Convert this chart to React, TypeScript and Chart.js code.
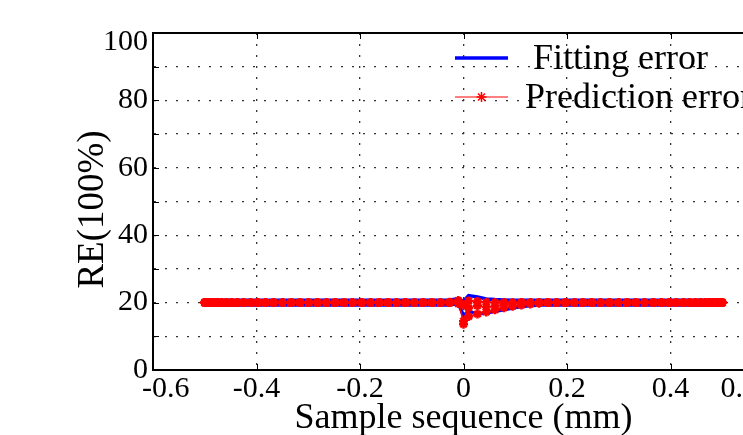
import React, { useEffect, useRef } from 'react';
import { Chart, registerables } from 'chart.js';

Chart.register(...registerables);

const SERIF = '"Liberation Serif", "Times New Roman", serif';

// sample positions (mm)
const sampleX = [
  -0.5, -0.497, -0.493, -0.488, -0.482, -0.475, -0.467, -0.458, -0.448, -0.437,
  -0.425, -0.412, -0.398, -0.383, -0.367, -0.35, -0.333, -0.316, -0.299, -0.282,
  -0.265, -0.248, -0.231, -0.214, -0.197, -0.18, -0.163, -0.146, -0.129, -0.112,
  -0.095, -0.078, -0.061, -0.044, -0.027, -0.01,
  0,
  0.01, 0.027, 0.044, 0.061, 0.078, 0.095, 0.112, 0.129, 0.146, 0.163,
  0.18, 0.197, 0.214, 0.231, 0.248, 0.265, 0.282, 0.299, 0.316, 0.333,
  0.35, 0.367, 0.383, 0.398, 0.412, 0.425, 0.437, 0.448, 0.458, 0.467,
  0.475, 0.482, 0.488, 0.493, 0.497, 0.5,
];

// Fitting error curves (blue)
const fittingA = [
  20.7, 20.7, 20.7, 20.7, 20.7, 20.7, 20.7, 20.7, 20.7, 20.7,
  20.7, 20.7, 20.7, 20.7, 20.7, 20.7, 20.7, 20.7, 20.7, 20.7,
  20.7, 20.7, 20.7, 20.7, 20.7, 20.7, 20.7, 20.7, 20.7, 20.7,
  20.7, 20.7, 20.7, 20.7, 20.8, 21.1,
  20.4,
  22.1, 21.7, 21.1, 20.9, 20.8, 20.7, 20.7, 20.7, 20.7, 20.7,
  20.7, 20.7, 20.7, 20.7, 20.7, 20.7, 20.7, 20.7, 20.7, 20.7,
  20.7, 20.7, 20.7, 20.7, 20.7, 20.7, 20.7, 20.7, 20.7, 20.7,
  20.7, 20.7, 20.7, 20.7, 20.7, 20.7,
];
const fittingB = [
  19.3, 19.3, 19.3, 19.3, 19.3, 19.3, 19.3, 19.3, 19.3, 19.3,
  19.3, 19.3, 19.3, 19.3, 19.3, 19.3, 19.3, 19.3, 19.3, 19.3,
  19.3, 19.3, 19.3, 19.3, 19.3, 19.3, 19.3, 19.3, 19.3, 19.3,
  19.3, 19.3, 19.3, 19.3, 19.3, 19.7,
  16.2,
  17.4, 16.6, 16.9, 17.4, 17.9, 18.4, 18.8, 19.1, 19.3, 19.3,
  19.3, 19.3, 19.3, 19.3, 19.3, 19.3, 19.3, 19.3, 19.3, 19.3,
  19.3, 19.3, 19.3, 19.3, 19.3, 19.3, 19.3, 19.3, 19.3, 19.3,
  19.3, 19.3, 19.3, 19.3, 19.3, 19.3,
];

// Prediction error curves (red)
const predictionA = [
  20, 20, 20, 20, 20, 20, 20, 20, 20, 20,
  20, 20, 20, 20, 20, 20, 20, 20, 20, 20,
  20, 20, 20, 20, 20, 20, 20, 20, 20, 20,
  20, 20, 20, 20, 20.1, 20.6,
  13.6,
  20.5, 20.3, 20.1, 20, 20, 20, 20, 20, 20, 20,
  20, 20, 20, 20, 20, 20, 20, 20, 20, 20,
  20, 20, 20, 20, 20, 20, 20, 20, 20, 20,
  20, 20, 20, 20, 20, 20,
];
const predictionB = [
  20, 20, 20, 20, 20, 20, 20, 20, 20, 20,
  20, 20, 20, 20, 20, 20, 20, 20, 20, 20,
  20, 20, 20, 20, 20, 20, 20, 20, 20, 20,
  20, 20, 20, 20, 20, 19.7,
  19.3,
  15.9, 16.6, 17.2, 17.9, 18.5, 18.9, 19.3, 19.6, 19.8, 20,
  20, 20, 20, 20, 20, 20, 20, 20, 20, 20,
  20, 20, 20, 20, 20, 20, 20, 20, 20, 20,
  20, 20, 20, 20, 20, 20,
];
const predictionC = [
  20, 20, 20, 20, 20, 20, 20, 20, 20, 20,
  20, 20, 20, 20, 20, 20, 20, 20, 20, 20,
  20, 20, 20, 20, 20, 20, 20, 20, 20, 20,
  20, 20, 20, 20, 20, 20.3,
  14.5,
  18.4, 19.1, 18.7, 19.0, 19.4, 19.7, 20, 20, 20, 20,
  20, 20, 20, 20, 20, 20, 20, 20, 20, 20,
  20, 20, 20, 20, 20, 20, 20, 20, 20, 20,
  20, 20, 20, 20, 20, 20,
];

const xTickValues = [-0.6, -0.4, -0.2, 0, 0.2, 0.4, 0.6];
const xTickLabels = ['-0.6', '-0.4', '-0.2', '0', '0.2', '0.4', '0.6'];
const yTickValues = [0, 20, 40, 60, 80, 100];
const yTickLabels = ['0', '20', '40', '60', '80', '100'];
const xTitle = 'Sample sequence (mm)';
const yTitle = 'RE(100%)';

const BLUE = '#0000ff';
const RED = '#ff0000';

function toPoints(ys: number[]) {
  return sampleX.map((x, i) => ({ x, y: ys[i] }));
}

function drawStar(ctx: CanvasRenderingContext2D, x: number, y: number, r: number) {
  ctx.beginPath();
  for (let k = 0; k < 4; k++) {
    const ang = (k * Math.PI) / 4;
    const dx = Math.cos(ang) * r;
    const dy = Math.sin(ang) * r;
    ctx.moveTo(x - dx, y - dy);
    ctx.lineTo(x + dx, y + dy);
  }
  ctx.stroke();
}

const matlabAxes = {
  id: 'matlabAxes',
  afterDraw(chart: any) {
    const { ctx, chartArea: a, scales } = chart;
    const xs = scales.x;
    const ys = scales.y;
    ctx.save();
    // top and right box edges
    ctx.strokeStyle = '#000';
    ctx.lineWidth = 2;
    ctx.setLineDash([]);
    ctx.beginPath();
    ctx.moveTo(a.left - 1, a.top);
    ctx.lineTo(a.right + 1, a.top);
    ctx.moveTo(a.right, a.top);
    ctx.lineTo(a.right, a.bottom);
    ctx.stroke();
    // inward tick marks
    ctx.lineWidth = 1;
    ctx.beginPath();
    xTickValues.forEach((v) => {
      const px = Math.round(xs.getPixelForValue(v)) + 0.5;
      ctx.moveTo(px, a.bottom);
      ctx.lineTo(px, a.bottom - 6);
      ctx.moveTo(px, a.top);
      ctx.lineTo(px, a.top + 6);
    });
    ys.ticks.forEach((t: any) => {
      const py = Math.round(ys.getPixelForValue(t.value)) + 0.5;
      ctx.moveTo(a.left, py);
      ctx.lineTo(a.left + 6, py);
    });
    ctx.stroke();
    // tick labels
    ctx.fillStyle = '#000';
    ctx.font = `30px ${SERIF}`;
    ctx.textAlign = 'left';
    ctx.textBaseline = 'alphabetic';
    xTickValues.forEach((v, i) => {
      const label = xTickLabels[i];
      const w = ctx.measureText(label).width;
      const px = xs.getPixelForValue(v);
      let left = px - w / 2;
      left = Math.max(left, a.left - 11);
      left = Math.min(left, a.right - 16 - w);
      ctx.fillText(label, left, a.bottom + 27);
    });
    ctx.textAlign = 'right';
    ctx.textBaseline = 'middle';
    yTickValues.forEach((v, i) => {
      const py = Math.max(ys.getPixelForValue(v), a.top + 9.5);
      ctx.fillText(yTickLabels[i], a.left - 5, py);
    });
    // y axis title
    ctx.font = `37px ${SERIF}`;
    ctx.textAlign = 'center';
    ctx.textBaseline = 'middle';
    ctx.translate(a.left - 60, (a.top + a.bottom) / 2 + 8);
    ctx.rotate(-Math.PI / 2);
    ctx.fillText(yTitle, 0, 0);
    ctx.restore();
  },
};

const insideLegend = {
  id: 'insideLegend',
  afterDraw(chart: any) {
    const { ctx, chartArea: a } = chart;
    const items = chart.data.datasets.filter((d: any) => d.inLegend);
    ctx.save();
    ctx.font = `36px ${SERIF}`;
    ctx.fillStyle = '#000';
    ctx.textAlign = 'left';
    ctx.textBaseline = 'middle';
    const x0 = a.right - 319;
    const x1 = a.right - 266;
    items.forEach((d: any, i: number) => {
      const y = a.top + 25 + i * 39;
      ctx.strokeStyle = d.borderColor;
      ctx.lineWidth = d.legendWidth;
      ctx.setLineDash([]);
      ctx.beginPath();
      ctx.moveTo(x0, y);
      ctx.lineTo(x1, y);
      ctx.stroke();
      if (d.pointRadius > 0) {
        ctx.strokeStyle = d.pointBorderColor;
        ctx.lineWidth = 1.5;
        drawStar(ctx, (x0 + x1) / 2, y, 5);
      }
      ctx.fillText(d.label, a.right - (i === 0 ? 241 : 249), y + 2);
    });
    ctx.restore();
  },
};

export default function App() {
  const canvasRef = useRef<HTMLCanvasElement | null>(null);

  useEffect(() => {
    const canvas = canvasRef.current;
    if (!canvas) return;
    const redBase = {
      borderColor: RED,
      borderWidth: 1.2,
      legendWidth: 1,
      pointStyle: 'star',
      pointRadius: 4.5,
      pointBorderWidth: 2.5,
      pointBorderColor: RED,
      pointBackgroundColor: RED,
      fill: false,
      tension: 0,
      order: 0,
    };
    const blueBase = {
      borderColor: BLUE,
      borderWidth: 3.5,
      legendWidth: 3.5,
      pointRadius: 0,
      fill: false,
      tension: 0,
      order: 1,
    };
    const chart = new Chart(canvas, {
      type: 'line',
      data: {
        datasets: [
          { ...blueBase, label: 'Fitting error', inLegend: true, data: toPoints(fittingA) } as any,
          { ...blueBase, label: 'Fitting error', data: toPoints(fittingB) } as any,
          { ...redBase, label: 'Prediction error', inLegend: true, data: toPoints(predictionA) } as any,
          { ...redBase, label: 'Prediction error', data: toPoints(predictionB) } as any,
          { ...redBase, label: 'Prediction error', data: toPoints(predictionC) } as any,
        ],
      },
      options: {
        responsive: false,
        animation: false,
        devicePixelRatio: 1,
        layout: { padding: { top: 33, right: 26, left: 0, bottom: 0 } },
        plugins: {
          legend: { display: false },
          tooltip: { enabled: false },
        },
        scales: {
          x: {
            type: 'linear',
            min: -0.6,
            max: 0.6,
            ticks: { display: false, stepSize: 0.2 },
            grid: { color: '#333', lineWidth: 1.3, drawTicks: false },
            border: { display: true, color: '#000', width: 2, dash: [2, 9] },
            title: {
              display: true,
              text: xTitle,
              color: '#000',
              font: { family: SERIF, size: 36, lineHeight: 0.9 },
              padding: { top: 0, bottom: 0 },
            },
            afterFit: (s: any) => {
              s.height = 65;
            },
          },
          y: {
            type: 'linear',
            min: 0,
            max: 100,
            ticks: { display: false, stepSize: 10 },
            grid: { color: '#333', lineWidth: 1.3, drawTicks: false },
            border: { display: true, color: '#000', width: 2, dash: [2, 9] },
            title: { display: false },
            afterFit: (s: any) => {
              s.width = 153;
            },
          },
        },
      } as any,
      plugins: [matlabAxes, insideLegend],
    });
    return () => chart.destroy();
  }, []);

  return (
    <div
      style={{
        position: 'fixed',
        left: 0,
        top: 0,
        width: 743,
        height: 435,
        overflow: 'hidden',
        background: '#fff',
      }}
    >
      <canvas
        ref={canvasRef}
        width={800}
        height={435}
        style={{ display: 'block', width: 800, height: 435 }}
      />
    </div>
  );
}
